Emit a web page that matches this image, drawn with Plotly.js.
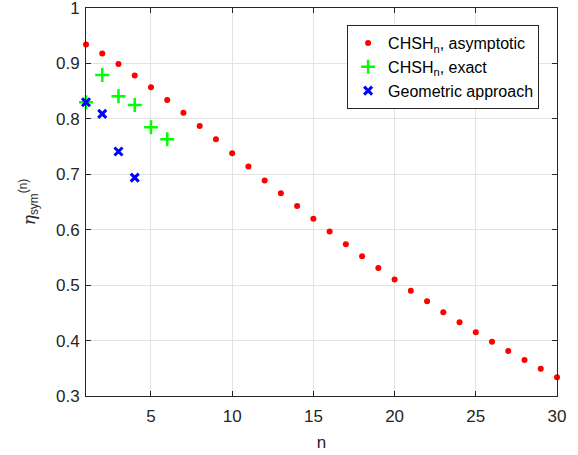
<!DOCTYPE html>
<html>
<head>
<meta charset="utf-8">
<script src="https://cdn.plot.ly/plotly-3.0.1.min.js"></script>
<style>html,body{margin:0;padding:0;background:#fff;}#chart{width:578px;height:455px;}</style>
</head>
<body>
<div id="chart"></div>
<script>
const nAsym = [1,2,3,4,5,6,7,8,9,10,11,12,13,14,15,16,17,18,19,20,21,22,23,24,25,26,27,28,29,30];
const etaAsym = [0.934,0.918,0.899,0.878,0.857,0.834,0.811,0.787,0.763,0.738,0.714,0.689,0.666,0.643,0.620,0.597,0.574,0.552,0.531,0.510,0.490,0.471,0.451,0.433,0.415,0.398,0.381,0.365,0.349,0.334];
const nExact = [1,2,3,4,5,6];
const etaExact = [0.830,0.879,0.841,0.825,0.785,0.763];
const nGeom = [1,2,3,4];
const etaGeom = [0.830,0.809,0.741,0.694];
const xTicks = [5,10,15,20,25,30];
const yTicks = [0.3,0.4,0.5,0.6,0.7,0.8,0.9,1];

const font = 'Liberation Sans, Arial, Helvetica, sans-serif';
const traces = [
  {x: nAsym, y: etaAsym, mode: 'markers', type: 'scatter', name: 'CHSH<sub>n</sub>, asymptotic',
   marker: {color: '#ff0000', size: 6}, cliponaxis: false},
  {x: nExact, y: etaExact, mode: 'markers', type: 'scatter', name: 'CHSH<sub>n</sub>, exact',
   marker: {symbol: 'cross-thin', size: 10, color: '#00ff00', line: {color: '#00ff00', width: 2.5}}, cliponaxis: false},
  {x: nGeom, y: etaGeom, mode: 'markers', type: 'scatter', name: 'Geometric approach',
   marker: {symbol: 'x-thin', size: 8, color: '#0000ff', line: {color: '#0000ff', width: 3}}, cliponaxis: false}
];
const axisCommon = {
  showline: true, linecolor: '#262626', linewidth: 1, mirror: 'ticks',
  ticks: 'inside', ticklen: 5, tickcolor: '#262626',
  showgrid: true, gridcolor: '#e3e3e3', zeroline: false,
  ticklabeloverflow: 'allow',
  tickfont: {family: font, size: 17, color: '#262626'}
};
const layout = {
  width: 578, height: 455,
  margin: {l: 86, r: 21, t: 8, b: 59},
  paper_bgcolor: '#fff', plot_bgcolor: '#fff',
  showlegend: true,
  legend: {x: 0.962, y: 0.956, xanchor: 'right', yanchor: 'top',
           bordercolor: '#262626', borderwidth: 1, bgcolor: '#fff',
           font: {family: font, size: 16, color: '#000'}},
  xaxis: Object.assign({}, axisCommon, {
    range: [1, 30], tickvals: xTicks, ticktext: xTicks.map(String),
    ticklabelstandoff: 5,
    title: {text: 'n', font: {family: font, size: 17, color: '#262626'}, standoff: 10}
  }),
  yaxis: Object.assign({}, axisCommon, {
    range: [0.3, 1], tickvals: yTicks, ticktext: yTicks.map(v => v === 1 ? '1' : v.toFixed(1)),
    ticklabelstandoff: 2,
    title: {text: '<i>η</i><sub><span style="font-family:Liberation Sans">sym</span></sub><sup><span style="font-family:Liberation Sans">(n)</span></sup>', font: {family: 'DejaVu Serif, serif', size: 17, color: '#262626'}, standoff: 16}
  })
};
Plotly.newPlot('chart', traces, layout, {staticPlot: true, displayModeBar: false});
</script>
</body>
</html>
